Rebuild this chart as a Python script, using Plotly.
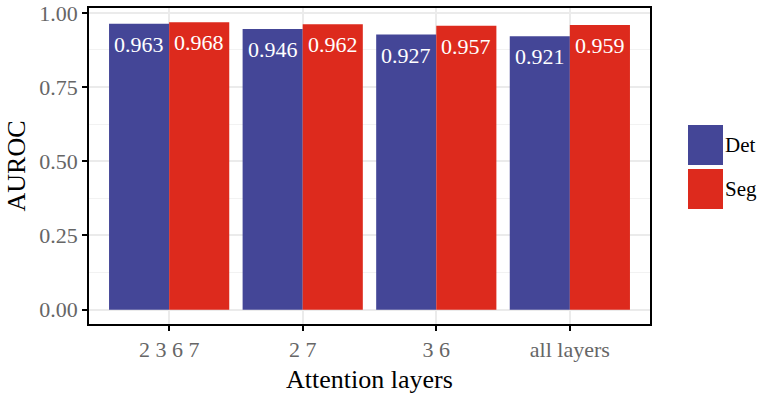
import plotly.graph_objects as go

categories = ["2 3 6 7", "2 7", "3 6", "all layers"]
det_values = [0.963, 0.946, 0.927, 0.921]
seg_values = [0.968, 0.962, 0.957, 0.959]
series_names = ["Det", "Seg"]
y_ticks = [0.0, 0.25, 0.5, 0.75, 1.0]

DET_COLOR = "#444697"
SEG_COLOR = "#DD2A1D"
FONT = "Liberation Serif, Times New Roman, serif"

W, H = 760, 397
L, R, T, B = 89, 110, 8, 73
pw, ph = W - L - R, H - T - B

def px_x(x):
    return (x - L) / pw

def px_y(y):
    return (H - B - y) / ph

fig = go.Figure()
fig.add_bar(x=categories, y=det_values, name=series_names[0], marker_color=DET_COLOR,
            marker_line_width=0, showlegend=False)
fig.add_bar(x=categories, y=seg_values, name=series_names[1], marker_color=SEG_COLOR,
            marker_line_width=0, showlegend=False)

# value labels inside bars
bar_px = 0.45 * pw / 4.2
for i, c in enumerate(categories):
    for vals, sh in ((det_values, -bar_px / 2), (seg_values, bar_px / 2)):
        fig.add_annotation(x=c, y=vals[i], text=f"{vals[i]:.3f}", showarrow=False,
                           xshift=sh, yshift=-6, yanchor="top",
                           font=dict(family=FONT, size=22, color="white"))

# legend (manual)
for name, col, y0, y1 in ((series_names[0], DET_COLOR, 125, 165), (series_names[1], SEG_COLOR, 169, 209)):
    fig.add_shape(type="rect", xref="paper", yref="paper", x0=px_x(688), x1=px_x(723),
                  y0=px_y(y1), y1=px_y(y0), fillcolor=col, line_width=0)
    fig.add_annotation(xref="paper", yref="paper", x=px_x(723), y=px_y((y0 + y1) / 2),
                       text=name, showarrow=False, xanchor="left", yanchor="middle",
                       font=dict(family=FONT, size=21, color="black"))

fig.update_layout(
    width=W, height=H,
    margin=dict(l=L, r=R, t=T, b=B, autoexpand=False),
    paper_bgcolor="white", plot_bgcolor="white",
    barmode="group", bargap=0.1, bargroupgap=0,
    showlegend=False,
    font=dict(family=FONT),
)
fig.update_xaxes(
    automargin=False,
    range=[-0.6, 3.6], showline=True, mirror=True, linecolor="black", linewidth=1.5,
    ticks="outside", ticklen=5, tickwidth=1.5, tickcolor="black",
    tickfont=dict(family=FONT, size=22, color="#666666"),
    showgrid=True, gridcolor="#EBEBEB", gridwidth=1.5, zeroline=False,
    title=dict(text="Attention layers", font=dict(family=FONT, size=26, color="black"), standoff=9),
)
fig.update_yaxes(
    automargin=False,
    range=[-0.0484, 1.0164], showline=True, mirror=True, linecolor="black", linewidth=1.5,
    tickvals=y_ticks, ticktext=[f"{v:.2f}" for v in y_ticks],
    ticks="outside", ticklen=5, tickwidth=1.5, tickcolor="black",
    tickfont=dict(family=FONT, size=22, color="#666666"),
    showgrid=True, gridcolor="#EBEBEB", gridwidth=1.5, zeroline=False,
    minor=dict(tickvals=[0.125, 0.375, 0.625, 0.875], showgrid=True, gridcolor="#F2F2F2", gridwidth=1, ticks=""),
    title=dict(text="AUROC", font=dict(family=FONT, size=26, color="black"), standoff=6),
)

fig.write_html("out.html", config={"displayModeBar": False},
               post_script="document.body.style.margin='0px';")
